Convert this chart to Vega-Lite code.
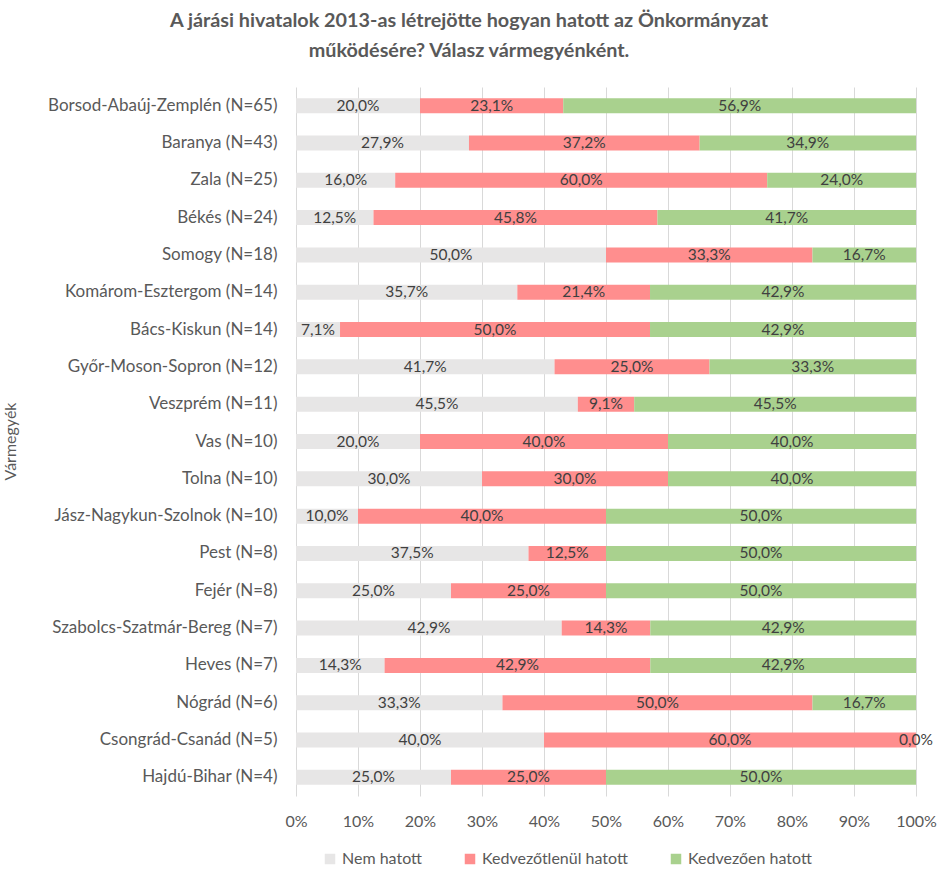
{
  "$schema": "https://vega.github.io/schema/vega-lite/v6.json",
  "autosize": {"type": "none"},
  "width": 620,
  "height": 709,
  "padding": {"left": 296, "top": 87, "right": 22, "bottom": 73},
  "background": "white",
  "title": {
    "text": ["A járási hivatalok 2013-as létrejötte hogyan hatott az Önkormányzat", "működésére? Válasz vármegyénként."],
    "anchor": "middle",
    "frame": "group",
    "dx": -137,
    "offset": 26,
    "font": "Lato",
    "fontSize": 19.8,
    "fontWeight": "bold",
    "color": "#595959",
    "lineHeight": 30
  },
  "data": {
    "values": [
      {"m": "Borsod-Abaúj-Zemplén (N=65)", "Nem hatott": 0.2, "Kedvezőtlenül hatott": 0.231, "Kedvezően hatott": 0.569},
      {"m": "Baranya (N=43)", "Nem hatott": 0.279, "Kedvezőtlenül hatott": 0.372, "Kedvezően hatott": 0.349},
      {"m": "Zala (N=25)", "Nem hatott": 0.16, "Kedvezőtlenül hatott": 0.6, "Kedvezően hatott": 0.24},
      {"m": "Békés (N=24)", "Nem hatott": 0.125, "Kedvezőtlenül hatott": 0.458, "Kedvezően hatott": 0.417},
      {"m": "Somogy (N=18)", "Nem hatott": 0.5, "Kedvezőtlenül hatott": 0.333, "Kedvezően hatott": 0.167},
      {"m": "Komárom-Esztergom (N=14)", "Nem hatott": 0.357, "Kedvezőtlenül hatott": 0.214, "Kedvezően hatott": 0.429},
      {"m": "Bács-Kiskun (N=14)", "Nem hatott": 0.071, "Kedvezőtlenül hatott": 0.5, "Kedvezően hatott": 0.429},
      {"m": "Győr-Moson-Sopron (N=12)", "Nem hatott": 0.417, "Kedvezőtlenül hatott": 0.25, "Kedvezően hatott": 0.333},
      {"m": "Veszprém (N=11)", "Nem hatott": 0.455, "Kedvezőtlenül hatott": 0.091, "Kedvezően hatott": 0.455},
      {"m": "Vas (N=10)", "Nem hatott": 0.2, "Kedvezőtlenül hatott": 0.4, "Kedvezően hatott": 0.4},
      {"m": "Tolna (N=10)", "Nem hatott": 0.3, "Kedvezőtlenül hatott": 0.3, "Kedvezően hatott": 0.4},
      {"m": "Jász-Nagykun-Szolnok (N=10)", "Nem hatott": 0.1, "Kedvezőtlenül hatott": 0.4, "Kedvezően hatott": 0.5},
      {"m": "Pest (N=8)", "Nem hatott": 0.375, "Kedvezőtlenül hatott": 0.125, "Kedvezően hatott": 0.5},
      {"m": "Fejér (N=8)", "Nem hatott": 0.25, "Kedvezőtlenül hatott": 0.25, "Kedvezően hatott": 0.5},
      {"m": "Szabolcs-Szatmár-Bereg (N=7)", "Nem hatott": 0.429, "Kedvezőtlenül hatott": 0.143, "Kedvezően hatott": 0.429},
      {"m": "Heves (N=7)", "Nem hatott": 0.143, "Kedvezőtlenül hatott": 0.429, "Kedvezően hatott": 0.429},
      {"m": "Nógrád (N=6)", "Nem hatott": 0.333, "Kedvezőtlenül hatott": 0.5, "Kedvezően hatott": 0.167},
      {"m": "Csongrád-Csanád (N=5)", "Nem hatott": 0.4, "Kedvezőtlenül hatott": 0.6, "Kedvezően hatott": 0.0},
      {"m": "Hajdú-Bihar (N=4)", "Nem hatott": 0.25, "Kedvezőtlenül hatott": 0.25, "Kedvezően hatott": 0.5}
    ]
  },
  "transform": [
    {"fold": ["Nem hatott", "Kedvezőtlenül hatott", "Kedvezően hatott"], "as": ["key", "value"]}
  ],
  "encoding": {
    "y": {
      "field": "m",
      "type": "nominal",
      "sort": null,
      "scale": {"paddingInner": 0.6, "paddingOuter": 0.3},
      "axis": {
        "title": "Vármegyék",
        "titleX": -278,
        "titleY": 354,
        "titleAngle": -90,
        "titleFont": "Lato",
        "titleFontSize": 16,
        "titleFontWeight": "normal",
        "titleColor": "#595959",
        "labelFont": "Lato",
        "labelFontSize": 17,
        "labelColor": "#595959",
        "labelPadding": 19,
        "labelLimit": 300,
        "ticks": false,
        "domain": false,
        "grid": false
      }
    }
  },
  "layer": [
    {
      "mark": {"type": "bar", "size": 15},
      "encoding": {
        "x": {
          "field": "value",
          "type": "quantitative",
          "stack": "normalize",
          "scale": {"domain": [0, 1], "nice": false},
          "axis": {
            "title": null,
            "format": ".0%",
            "values": [0, 0.1, 0.2, 0.3, 0.4, 0.5, 0.6, 0.7, 0.8, 0.9, 1],
            "grid": true,
            "gridColor": "#d9d9d9",
            "gridWidth": 1,
            "domain": false,
            "ticks": false,
            "labelFont": "Lato",
            "labelFontSize": 16,
            "labelColor": "#595959",
            "labelPadding": 17,
            "labelFlush": false
          }
        },
        "color": {
          "field": "key",
          "type": "nominal",
          "scale": {
            "domain": ["Nem hatott", "Kedvezőtlenül hatott", "Kedvezően hatott"],
            "range": ["#E7E6E6", "#FF8E8E", "#A9D18E"]
          },
          "legend": {
            "title": null,
            "orient": "none",
            "direction": "horizontal",
            "legendX": 26,
            "legendY": 764,
            "symbolType": "square",
            "symbolSize": 110,
            "symbolStrokeWidth": 0,
            "labelFont": "Lato",
            "labelFontSize": 16,
            "labelColor": "#595959",
            "columnPadding": 40,
            "labelOffset": 4
          }
        },
        "order": {"field": "key", "sort": "descending"}
      }
    },
    {
      "mark": {"type": "text", "font": "Lato", "fontSize": 15.5, "color": "#404040", "baseline": "middle"},
      "encoding": {
        "x": {"field": "value", "type": "quantitative", "stack": "normalize", "bandPosition": 0.5},
        "detail": {"field": "key"},
        "order": {"field": "key", "sort": "descending"},
        "text": {"field": "value", "type": "quantitative", "format": ".1%"}
      }
    }
  ],
  "config": {
    "locale": {"number": {"decimal": ",", "thousands": " ", "grouping": [3], "currency": ["", " Ft"]}},
    "view": {"stroke": null}
  }
}
